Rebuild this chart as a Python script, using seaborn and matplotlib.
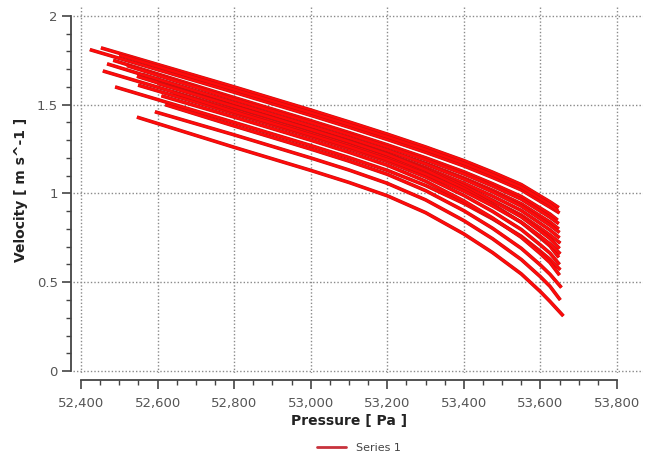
import numpy as np
import pandas as pd
import matplotlib
matplotlib.use("Agg")
import matplotlib.pyplot as plt
import matplotlib.patheffects as pe
from matplotlib.lines import Line2D
from matplotlib.ticker import FixedLocator, FuncFormatter
import seaborn as sns

# ---- data (18 streamlines) ----
start_p = [52452, 52423, 52500, 52484, 52468, 52520, 52560, 52457, 52580, 52546, 52600, 52549, 52640, 52489, 52610, 52620, 52593, 52546]
start_v = [1.82, 1.81, 1.78, 1.75, 1.73, 1.72, 1.67, 1.69, 1.64, 1.66, 1.62, 1.61, 1.57, 1.60, 1.55, 1.50, 1.46, 1.43]
mid_p = [52800, 53000, 53100, 53200, 53300, 53400, 53475, 53550, 53600, 53625]
v_52800 = [1.60, 1.57, 1.585, 1.54, 1.51, 1.53, 1.51, 1.47, 1.49, 1.49, 1.49, 1.45, 1.46, 1.40, 1.43, 1.38, 1.33, 1.26]
v_53000 = [1.47, 1.44, 1.455, 1.41, 1.38, 1.40, 1.38, 1.34, 1.36, 1.36, 1.36, 1.32, 1.33, 1.27, 1.30, 1.25, 1.20, 1.13]
v_53100 = [1.403, 1.373, 1.388, 1.343, 1.313, 1.333, 1.313, 1.273, 1.293, 1.293, 1.292, 1.252, 1.263, 1.202, 1.232, 1.182, 1.132, 1.062]
v_53200 = [1.334, 1.304, 1.319, 1.274, 1.243, 1.263, 1.243, 1.202, 1.223, 1.221, 1.220, 1.180, 1.191, 1.130, 1.159, 1.108, 1.057, 0.987]
v_53300 = [1.262, 1.232, 1.247, 1.201, 1.169, 1.190, 1.166, 1.124, 1.145, 1.139, 1.133, 1.093, 1.109, 1.045, 1.069, 1.016, 0.964, 0.892]
v_53400 = [1.185, 1.155, 1.170, 1.122, 1.087, 1.110, 1.081, 1.036, 1.058, 1.043, 1.029, 0.989, 1.013, 0.944, 0.958, 0.903, 0.847, 0.772]
v_53475 = [1.120, 1.090, 1.105, 1.055, 1.018, 1.042, 1.009, 0.961, 0.985, 0.960, 0.939, 0.899, 0.930, 0.857, 0.862, 0.804, 0.745, 0.667]
v_53550 = [1.050, 1.020, 1.035, 0.983, 0.942, 0.968, 0.929, 0.878, 0.904, 0.868, 0.837, 0.797, 0.838, 0.759, 0.753, 0.691, 0.628, 0.547]
v_53600 = [0.985, 0.955, 0.970, 0.917, 0.873, 0.900, 0.857, 0.804, 0.831, 0.788, 0.750, 0.710, 0.758, 0.674, 0.661, 0.597, 0.531, 0.447]
v_53625 = [0.953, 0.923, 0.938, 0.884, 0.839, 0.866, 0.821, 0.766, 0.794, 0.746, 0.704, 0.664, 0.716, 0.629, 0.611, 0.545, 0.477, 0.392]
end_p = [53648, 53650, 53646, 53645, 53648, 53648, 53650, 53652, 53650, 53650, 53648, 53650, 53652, 53652, 53650, 53655, 53652, 53660]
end_v = [0.92, 0.89, 0.90, 0.85, 0.80, 0.83, 0.78, 0.72, 0.75, 0.69, 0.64, 0.60, 0.66, 0.57, 0.54, 0.47, 0.40, 0.31]

x_ticks = [52400, 52600, 52800, 53000, 53200, 53400, 53600, 53800]
y_ticks = [0, 0.5, 1, 1.5, 2]

mid_cols = [v_52800, v_53000, v_53100, v_53200, v_53300, v_53400, v_53475, v_53550, v_53600, v_53625]
rows = []
for i in range(len(start_p)):
    ps = [start_p[i]] + mid_p + [end_p[i]]
    vs = [start_v[i]] + [col[i] for col in mid_cols] + [end_v[i]]
    for p, v in zip(ps, vs):
        rows.append({"curve": i, "Pressure": p, "Velocity": v})
df = pd.DataFrame(rows)

sns.set_style("white")
plt.rcParams["font.family"] = ["DejaVu Sans"]

fig = plt.figure(figsize=(6.59, 4.57), dpi=100)
ax = fig.add_axes([73 / 659, (457 - 373) / 457, 570 / 659, 366 / 457])

sns.lineplot(data=df, x="Pressure", y="Velocity", units="curve", estimator=None,
             sort=False, color="#ff0a0a", linewidth=1.8, ax=ax, legend=False)
for ln in ax.lines:
    ln.set_path_effects([pe.Stroke(linewidth=2.6, foreground="#c41212"), pe.Normal()])
    ln.set_solid_capstyle("butt")
    ln.set_solid_joinstyle("round")

ax.set_xlim(52379, 53868)
ax.set_ylim(-0.011, 2.05)

ax.xaxis.set_major_locator(FixedLocator(x_ticks))
ax.yaxis.set_major_locator(FixedLocator(y_ticks))
ax.xaxis.set_minor_locator(FixedLocator(np.arange(52450, 53800, 50)))
ax.yaxis.set_minor_locator(FixedLocator(np.arange(0.1, 2.0, 0.1)))
ax.xaxis.set_major_formatter(FuncFormatter(lambda v, p: f"{int(round(v)):,}"))
ax.yaxis.set_major_formatter(FuncFormatter(lambda v, p: f"{v:g}"))

ax.grid(True, which="major", linestyle=(0, (1, 1.5)), color="#8a8a8a", linewidth=1.0)
ax.grid(False, which="minor")

for s in ["top", "right"]:
    ax.spines[s].set_visible(False)
ax.spines["left"].set_position(("outward", 1.5))
ax.spines["bottom"].set_position(("outward", 5))
ax.spines["left"].set_bounds(0, 2)
ax.spines["bottom"].set_bounds(52400, 53800)
for s in ["left", "bottom"]:
    ax.spines[s].set_color("#444444")
    ax.spines[s].set_linewidth(1.3)

ax.tick_params(which="major", direction="out", length=6.5, width=1.2, color="#444444",
               labelsize=9.5, labelcolor="#555555", pad=3)
ax.tick_params(axis="x", which="major", pad=6)
ax.tick_params(which="minor", direction="out", length=3.5, width=1.0, color="#444444")
ax.tick_params(axis="x", which="both", bottom=True)
ax.tick_params(axis="y", which="both", left=True)

ax.set_xlabel("Pressure [ Pa ]", fontsize=10, fontweight="bold", color="#222222")
ax.set_ylabel("Velocity [ m s^-1 ]", fontsize=10, fontweight="bold", color="#222222")
ax.xaxis.set_label_coords((349 - 73) / 570, -(414 - 373) / 366)
ax.yaxis.set_label_coords(-(73 - 28) / 570, 0.5)

handle = Line2D([], [], color="#c8323c", linewidth=2.0)
fig.legend([handle], ["Series 1"], loc="center", bbox_to_anchor=(359 / 659, 9 / 457),
           frameon=False, fontsize=8, handlelength=2.6, handletextpad=0.9,
           labelcolor="#444444")

fig.savefig("out.png", dpi=100)
